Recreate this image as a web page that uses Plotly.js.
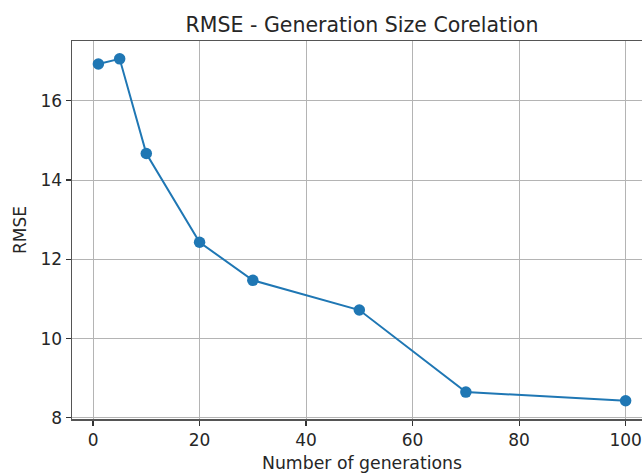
<!DOCTYPE html>
<html>
<head>
<meta charset="utf-8">
<script src="https://cdn.plot.ly/plotly-3.0.1.min.js"></script>
<style>
html,body{margin:0;padding:0;overflow:hidden;background:#fff;}
#chart{width:660px;height:473px;}
</style>
</head>
<body>
<div id="chart"></div>
<script>
const generations = [1, 5, 10, 20, 30, 50, 70, 100];
const rmse = [16.93, 17.06, 14.67, 12.43, 11.47, 10.72, 8.65, 8.43];
const xTicks = [0, 20, 40, 60, 80, 100];
const yTicks = [8, 10, 12, 14, 16];

const font = "DejaVu Sans, sans-serif";
const trace = {
  x: generations,
  y: rmse,
  type: 'scatter',
  mode: 'lines+markers',
  line: {color: '#1f77b4', width: 2},
  marker: {color: '#1f77b4', size: 11.5},
  hoverinfo: 'none'
};
const axisCommon = {
  showgrid: true,
  gridcolor: '#b4b4b4',
  gridwidth: 1,
  zeroline: false,
  showline: true,
  linecolor: '#555',
  linewidth: 1.5,
  mirror: true,
  ticks: 'outside',
  ticklen: 5,
  tickwidth: 1.2,
  tickcolor: '#333',
  tickfont: {family: font, size: 17, color: '#262626'},
  automargin: false
};
const layout = {
  width: 660,
  height: 473,
  margin: {l: 72, r: 8, t: 41, b: 54},
  paper_bgcolor: '#fff',
  plot_bgcolor: '#fff',
  showlegend: false,
  title: {
    text: 'RMSE - Generation Size Corelation',
    font: {family: font, size: 20.5, color: '#262626'},
    x: 0.5, xref: 'paper', xanchor: 'center',
    y: 1 - 25/473, yref: 'container', yanchor: 'middle'
  },
  xaxis: Object.assign({}, axisCommon, {
    range: [-3.95, 104.95],
    tickvals: xTicks,
    ticktext: xTicks.map(String),
    title: {text: 'Number of generations', font: {family: font, size: 17.3, color: '#262626'}, standoff: 9}
  }),
  yaxis: Object.assign({}, axisCommon, {
    range: [7.97, 17.51],
    tickvals: yTicks,
    ticktext: yTicks.map(String),
    title: {text: 'RMSE', font: {family: font, size: 17, color: '#262626'}, standoff: 9}
  })
};
Plotly.newPlot('chart', [trace], layout, {staticPlot: true, displayModeBar: false});
</script>
</body>
</html>
